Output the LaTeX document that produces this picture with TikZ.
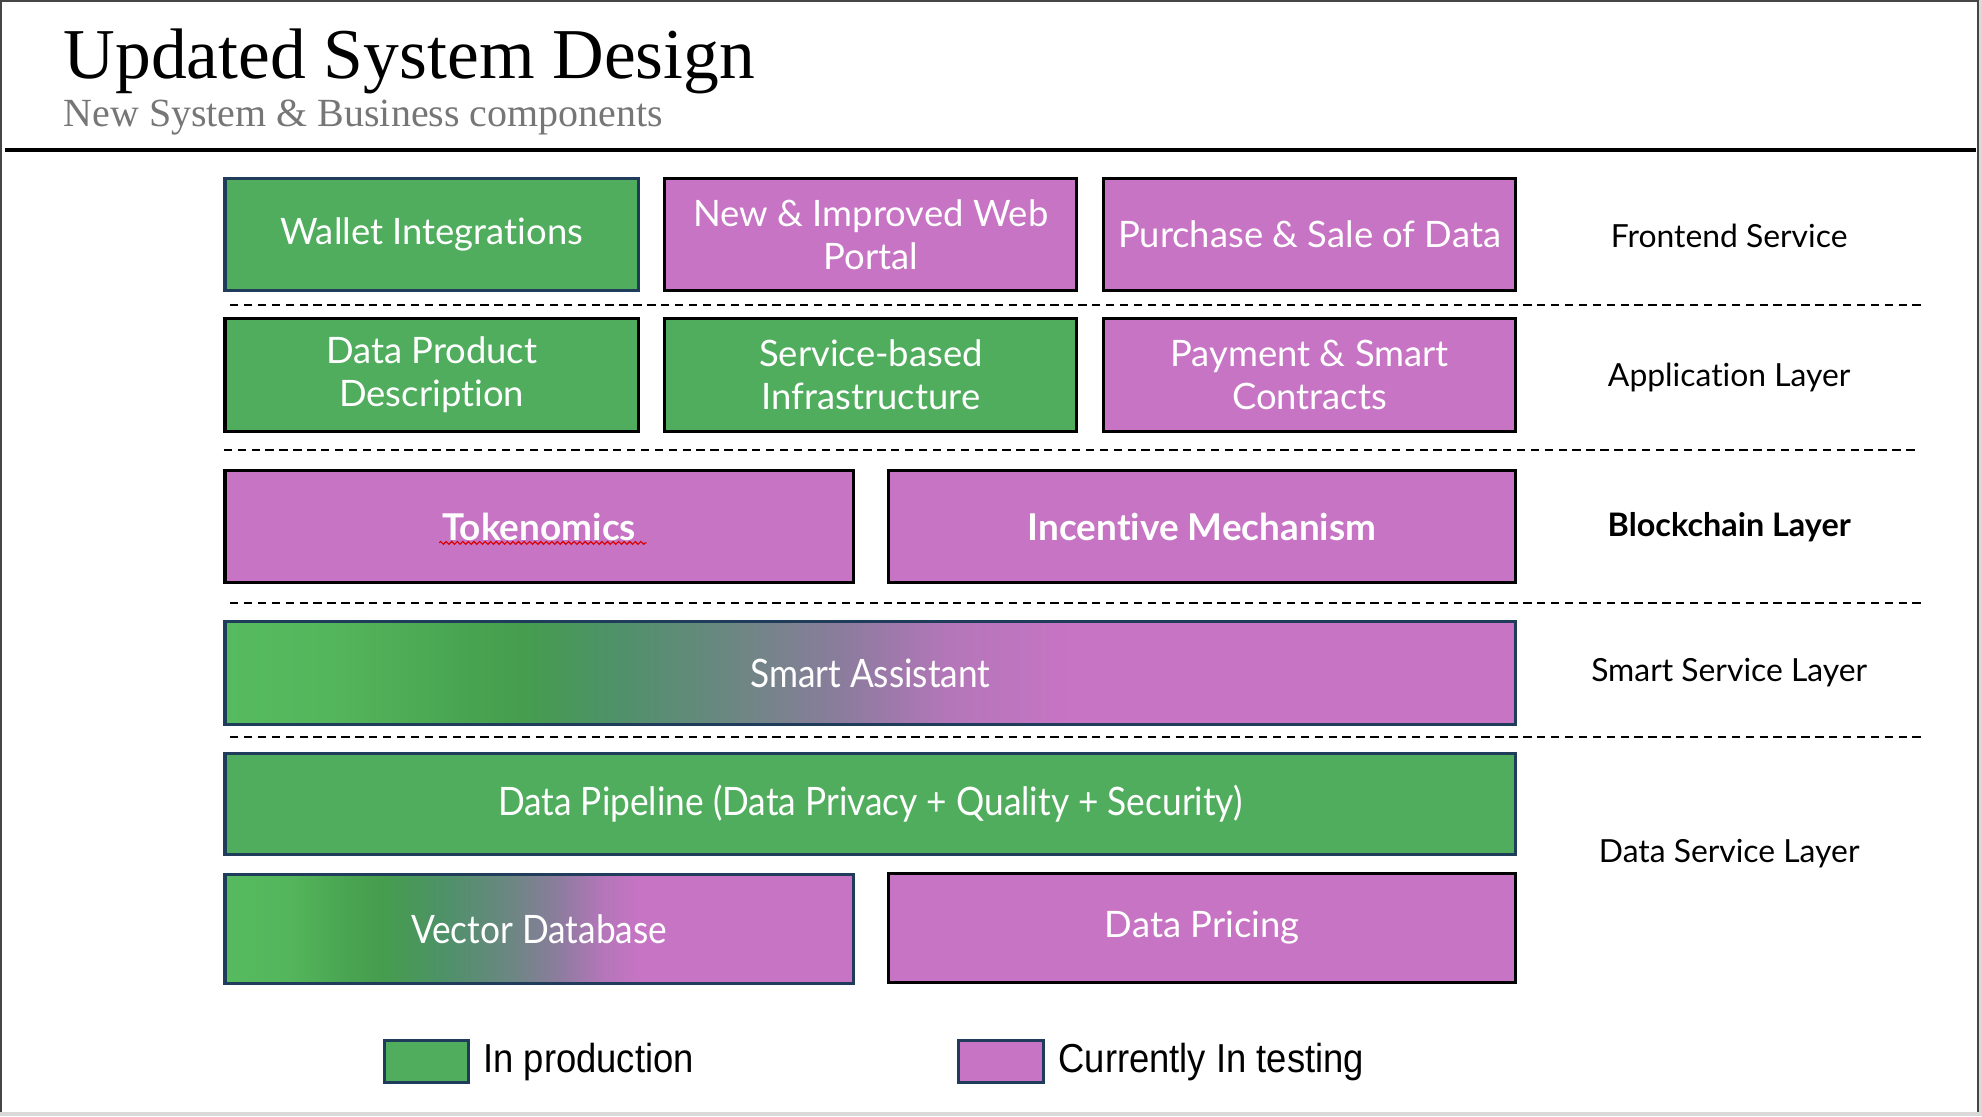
\documentclass[tikz,border=0pt]{standalone}
\usepackage{fontspec}
\setmainfont[Ligatures=NoCommon]{Lato}
\newfontfamily\titlefont{Liberation Serif}
\newfontfamily\narrowfont[FakeStretch=0.9,Ligatures=NoCommon]{Lato}
\newfontfamily\legendfont[FakeStretch=0.9]{Liberation Sans}
\usetikzlibrary{calc,backgrounds,decorations.pathmorphing}

\definecolor{prodgreen}{RGB}{81,173,94}
\definecolor{testpurple}{RGB}{199,116,196}
\definecolor{navyline}{RGB}{31,61,90}
\definecolor{subgray}{RGB}{118,118,118}
\definecolor{framegray}{RGB}{70,70,70}
\definecolor{edgegray}{RGB}{217,217,217}
% stops of the green-to-purple blend
\definecolor{c0}{RGB}{86,186,94}
\definecolor{c1}{RGB}{84,182,92}
\definecolor{c2}{RGB}{75,168,83}
\definecolor{c3}{RGB}{69,157,77}
\definecolor{c4}{RGB}{78,145,105}
\definecolor{c5}{RGB}{110,134,132}
\definecolor{c6}{RGB}{140,124,158}
\definecolor{c7}{RGB}{180,118,185}

\tikzset{
  block/.style={draw, line width=1.2pt, inner sep=0pt, outer sep=0pt,
    text=white, align=center, font=\fontsize{14.4}{17}\selectfont},
  greenblock/.style={block, fill=prodgreen},
  purpleblock/.style={block, fill=testpurple},
  blendblock/.style={block, draw=navyline},
  navy/.style={draw=navyline},
  layerlabel/.style={inner sep=0pt, font=\fontsize{12.6}{15}\selectfont},
  divider/.style={line width=0.8pt, dash pattern=on 3.3pt off 2.2pt},
  legsquare/.style={draw=navyline, line width=1.2pt, inner sep=0pt,
    minimum width=33.5pt, minimum height=16.5pt},
  legtext/.style={anchor=west, inner sep=0pt,
    font=\legendfont\fontsize{16}{18}\selectfont},
}

% a block given by its corners in picture units
\newcommand\blockat[7]{%
  \node[#6, minimum width={(#4-#2)*0.5pt}, minimum height={(#5-#3)*0.5pt}]
    (#1) at ({(#2+#4)/2},{(#3+#5)/2}) {#7};}

% horizontal blend behind a block: from/to/leftcolour/rightcolour
\newcommand\blendfill[2]{%
  \begin{pgfonlayer}{background}
  \foreach \fa/\fb/\ca/\cb in {#2} {
    \path[left color=\ca, right color=\cb]
      ($(#1.south west)!\fa!(#1.south east)$) rectangle
      ($(#1.north west)!\fb!(#1.north east)+(0.8,0)$);
  }
  \end{pgfonlayer}}

\begin{document}
\begin{tikzpicture}[x=0.5pt, y=-0.5pt]
\useasboundingbox (0,0) rectangle (1568,883);

% page frame, kept behind everything
\begin{pgfonlayer}{background}
\fill[edgegray] (0,0) rectangle (1568,883);
\fill[white] (1.5,1.5) rectangle (1565,880);
\draw[framegray, line width=0.8pt] (1,880) -- (1,1) -- (1565,1) -- (1565,880);
\end{pgfonlayer}

% heading
\node[anchor=base west, inner sep=0pt, font=\titlefont\fontsize{28.3}{32}\selectfont]
  (title) at (50,62) {Updated System Design};
\node[anchor=base west, inner sep=0pt, text=subgray, font=\titlefont\fontsize{15.8}{18}\selectfont]
  (subtitle) at (50,100) {New System \& Business components};
\draw[line width=1.6pt] (4,119) -- (1563,119);

% frontend row
\blockat{wallet}{178}{141}{505}{230}{greenblock,navy}{Wallet Integrations}
\blockat{portal}{526}{141}{852}{230}{purpleblock}{New \& Improved Web\\Portal}
\blockat{purchase}{873}{141}{1199}{230}{purpleblock}{Purchase \& Sale of Data}
\node[layerlabel] (lfront) at (1368,187) {Frontend Service};
\draw[divider] (182,241) -- (1520,241);

% application row
\blockat{product}{178}{252}{505}{341}{greenblock}{Data Product\\Description}
\blockat{infra}{526}{252}{852}{341}{greenblock}{Service-based\\Infrastructure}
\blockat{payment}{873}{252}{1199}{341}{purpleblock}{Payment \& Smart\\Contracts}
\node[layerlabel] (lapp) at (1368,299) {Application Layer};
\draw[divider] (177,356) -- (1515,356);

% blockchain row
\blockat{tok}{178}{372}{675}{461}{purpleblock,font=\bfseries\fontsize{14.6}{17}\selectfont}{Tokenomics}
\blockat{incent}{703}{372}{1199}{461}{purpleblock,font=\bfseries\fontsize{14.6}{17}\selectfont}{Incentive Mechanism}
\draw[red!85!black, line width=0.45pt, decorate,
  decoration={zigzag, amplitude=0.55pt, segment length=2.2pt}]
  ($(tok.center)+(-79,13)$) -- ($(tok.center)+(85,13)$);
\node[layerlabel, font=\bfseries\fontsize{12.8}{15}\selectfont] (lchain) at (1368,417) {Blockchain Layer};
\draw[divider] (182,477) -- (1520,477);

% smart service row
\blockat{assist}{178}{492}{1199}{573}{blendblock,font=\narrowfont\fontsize{15.5}{19}\selectfont}{Smart Assistant}
\blendfill{assist}{0/0.08/c0/c1, 0.08/0.16/c1/c2, 0.16/0.23/c2/c3, 0.23/0.30/c3/c4,
  0.30/0.40/c4/c5, 0.40/0.48/c5/c6, 0.48/0.56/c6/c7, 0.56/0.66/c7/testpurple,
  0.66/1/testpurple/testpurple}
\node[layerlabel] (lsmart) at (1368,532) {Smart Service Layer};
\draw[divider] (182,583) -- (1520,583);

% data service rows
\blockat{pipeline}{178}{596}{1199}{676}{greenblock,navy,font=\narrowfont\fontsize{15.5}{19}\selectfont}{Data Pipeline (Data Privacy + Quality + Security)}
\blockat{vector}{178}{692}{675}{778}{blendblock,font=\narrowfont\fontsize{15.5}{19}\selectfont}{Vector Database}
\blendfill{vector}{0/0.10/c0/c1, 0.10/0.17/c1/c2, 0.17/0.25/c2/c3, 0.25/0.35/c3/c4,
  0.35/0.46/c4/c5, 0.46/0.53/c5/c6, 0.53/0.60/c6/c7, 0.60/0.66/c7/testpurple,
  0.66/1/testpurple/testpurple}
\blockat{pricing}{703}{691}{1199}{777}{purpleblock}{Data Pricing}
\node[layerlabel] (ldata) at (1368,675) {Data Service Layer};

% legend
\node[legsquare, fill=prodgreen] (legprod) at (337.5,839.5) {};
\node[legtext] (legprodtext) at (382,840) {In production};
\node[legsquare, fill=testpurple] (legtest) at (792,839.5) {};
\node[legtext] (legtesttext) at (837,840) {Currently In testing};
\end{tikzpicture}
\end{document}
